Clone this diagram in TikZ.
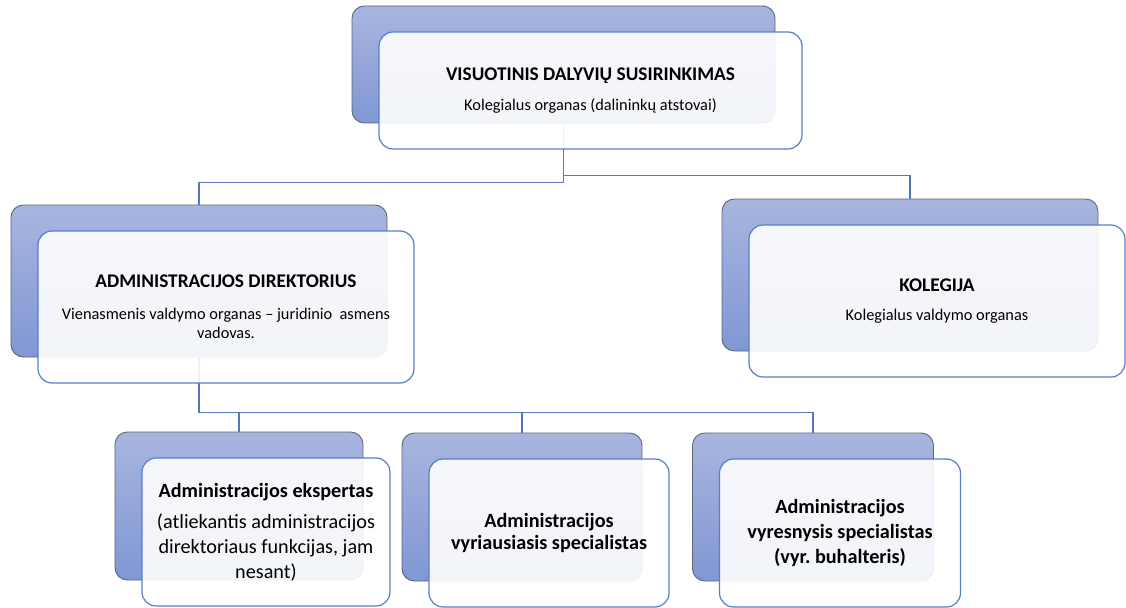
\documentclass[tikz,border=0pt]{standalone}
\usepackage{fontspec}
\setmainfont{Carlito}
\definecolor{backtop}{RGB}{168,181,223}
\definecolor{backbot}{RGB}{128,151,212}
\definecolor{backline}{RGB}{95,100,115}
\definecolor{frontline}{RGB}{86,127,203}
\definecolor{linkcol}{RGB}{84,118,190}
\newcommand{\pxu}{0.02cm}
\newcommand{\hdtxt}{\fontsize{11}{13}\bfseries}
\newcommand{\sbtxt}{\fontsize{9.3}{11}\selectfont\mdseries}
\newcommand{\hdlow}{\fontsize{11.5}{13.5}\bfseries}
\newcommand{\sblow}{\fontsize{11.5}{13.5}\selectfont\mdseries}

\begin{document}
\begin{tikzpicture}[x=0.02cm,y=-0.02cm,
  backbox/.style={draw=backline,line width=0.5pt,rounded corners=7pt,top color=backtop,bottom color=backbot,inner sep=0pt},
  frontbox/.style={draw=frontline,line width=0.7pt,rounded corners=8pt,fill=white,fill opacity=0.9,text opacity=1,inner sep=0pt,align=center},
  link/.style={draw=linkcol,line width=0.7pt}]
\useasboundingbox (0,0) rectangle (1126,608);

\node[backbox,minimum width=423*\pxu,minimum height=117*\pxu] (vis-b) at (563.5,64.5) {};
\node[backbox,minimum width=376*\pxu,minimum height=152*\pxu] (adm-b) at (199,281) {};
\node[backbox,minimum width=376*\pxu,minimum height=152*\pxu] (kol-b) at (910,275) {};
\node[backbox,minimum width=248*\pxu,minimum height=148*\pxu] (eks-b) at (239,506) {};
\node[backbox,minimum width=240*\pxu,minimum height=148*\pxu] (vyr-b) at (522,507) {};
\node[backbox,minimum width=241*\pxu,minimum height=148*\pxu] (vrs-b) at (813,507) {};

\draw[link] (vis-b.south) -- ++(0,59) -| (adm-b.north);
\draw[link] (vis-b.south) -- ++(0,52) -| (kol-b.north);
\draw[link] (adm-b.south) -- ++(0,55) -| (eks-b.north);
\draw[link] (adm-b.south) -- ++(0,55) -| (vyr-b.north);
\draw[link] (adm-b.south) -- ++(0,55) -| (vrs-b.north);

\node[frontbox,minimum width=423*\pxu,minimum height=117*\pxu] (vis) at ([shift={(27,26)}]vis-b.center)
  {\hdtxt VISUOTINIS DALYVIŲ SUSIRINKIMAS\\[5pt]\sbtxt Kolegialus organas (dalininkų atstovai)};
\node[frontbox,minimum width=376*\pxu,minimum height=152*\pxu] (adm) at ([shift={(27,26)}]adm-b.center)
  {\hdtxt ADMINISTRACIJOS DIREKTORIUS\\[6pt]\sbtxt Vienasmenis valdymo organas -- juridinio\ \ asmens\\[-1pt]\sbtxt vadovas.};
\node[frontbox,minimum width=376*\pxu,minimum height=152*\pxu] (kol) at ([shift={(27,26)}]kol-b.center)
  {\hdtxt KOLEGIJA\\[5pt]\sbtxt Kolegialus valdymo organas};
\node[frontbox,minimum width=248*\pxu,minimum height=148*\pxu] (eks) at ([shift={(27,26)}]eks-b.center)
  {\hdlow Administracijos ekspertas\\[6pt]\sblow (atliekantis administracijos\\[2pt]\sblow direktoriaus funkcijas, jam\\[2pt]\sblow nesant)};
\node[frontbox,minimum width=240*\pxu,minimum height=148*\pxu] (vyr) at ([shift={(27,26)}]vyr-b.center)
  {\hdlow Administracijos\\[1pt]\hdlow vyriausiasis specialistas};
\node[frontbox,minimum width=241*\pxu,minimum height=148*\pxu] (vrs) at ([shift={(27,26)}]vrs-b.center)
  {\hdlow Administracijos\\[2pt]\hdlow vyresnysis specialistas\\[2pt]\hdlow (vyr.\ buhalteris)};
\end{tikzpicture}
\end{document}
